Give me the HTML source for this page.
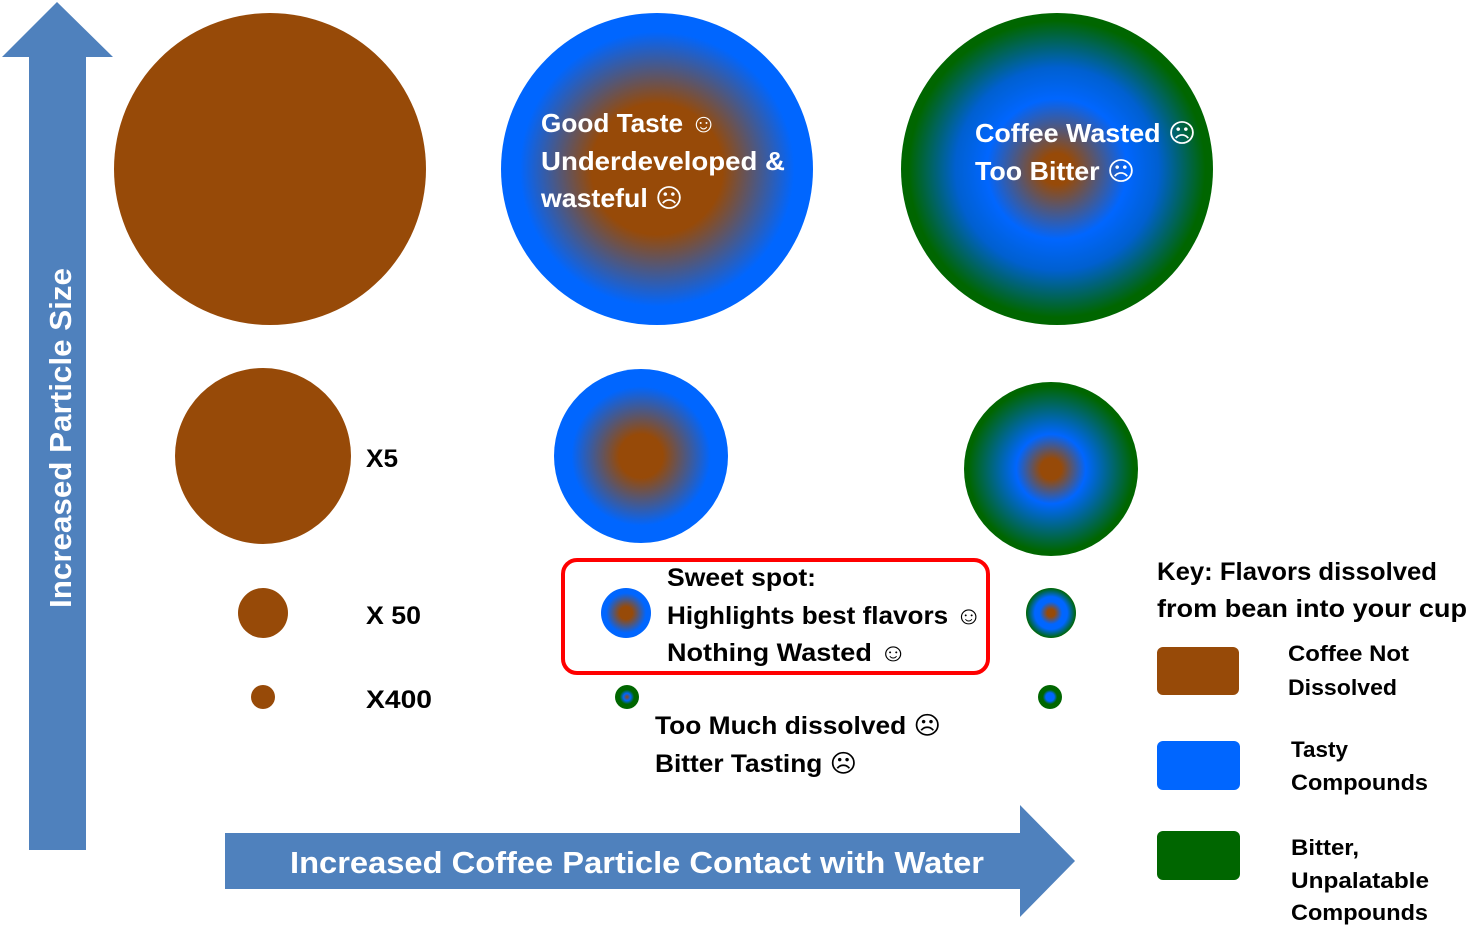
<!DOCTYPE html>
<html><head><meta charset="utf-8"><style>
html,body{margin:0;padding:0;background:#fff;}
svg{display:block;}
text{font-family:"Liberation Sans","DejaVu Sans",sans-serif;font-weight:bold;}
</style></head><body>
<svg width="1467" height="925" viewBox="0 0 1467 925" xmlns="http://www.w3.org/2000/svg">
<defs>
<radialGradient id="gb"><stop offset="0" stop-color="#974A08"/><stop offset="0.42" stop-color="#974A08"/><stop offset="0.88" stop-color="#0066FF"/><stop offset="1" stop-color="#0066FF"/></radialGradient>
<radialGradient id="gg"><stop offset="0" stop-color="#974A08"/><stop offset="0.1" stop-color="#974A08"/><stop offset="0.45" stop-color="#0066FF"/><stop offset="0.65" stop-color="#0060D0"/><stop offset="0.95" stop-color="#006600"/><stop offset="1" stop-color="#006600"/></radialGradient>
<radialGradient id="gb2"><stop offset="0" stop-color="#974A08"/><stop offset="0.25" stop-color="#974A08"/><stop offset="0.8" stop-color="#0066FF"/><stop offset="1" stop-color="#0066FF"/></radialGradient>
<radialGradient id="gg2"><stop offset="0" stop-color="#974A08"/><stop offset="0.12" stop-color="#974A08"/><stop offset="0.4" stop-color="#0066FF"/><stop offset="0.95" stop-color="#006600"/><stop offset="1" stop-color="#006600"/></radialGradient>
<radialGradient id="gs1"><stop offset="0" stop-color="#974A08"/><stop offset="0.15" stop-color="#974A08"/><stop offset="0.45" stop-color="#0066FF"/><stop offset="0.65" stop-color="#0066FF"/><stop offset="1" stop-color="#006600"/></radialGradient>
<radialGradient id="gs2"><stop offset="0" stop-color="#974A08"/><stop offset="0.3" stop-color="#0066FF"/><stop offset="0.6" stop-color="#006600"/><stop offset="1" stop-color="#006600"/></radialGradient>
<radialGradient id="gs3"><stop offset="0" stop-color="#0066FF"/><stop offset="0.35" stop-color="#0066FF"/><stop offset="0.6" stop-color="#006600"/><stop offset="1" stop-color="#006600"/></radialGradient>
</defs>
<polygon points="57,2 113,57 86,57 86,850 29,850 29,57 2,57" fill="#4F81BD"/>
<text transform="translate(71,438) rotate(-90)" text-anchor="middle" font-size="31" fill="#fff" textLength="340" lengthAdjust="spacingAndGlyphs">Increased Particle Size</text>
<polygon points="225,833 1020,833 1020,805 1075,861 1020,917 1020,889 225,889" fill="#4F81BD"/>
<text x="290" y="873" font-size="31" fill="#fff" textLength="694" lengthAdjust="spacingAndGlyphs">Increased Coffee Particle Contact with Water</text>
<circle cx="270" cy="169" r="156" fill="#974A08"/>
<circle cx="657" cy="169" r="156" fill="url(#gb)"/>
<circle cx="1057" cy="169" r="156" fill="url(#gg)"/>
<text font-size="26" fill="#fff"><tspan x="541" y="132" textLength="176" lengthAdjust="spacingAndGlyphs">Good Taste ☺</tspan><tspan x="541" y="170" textLength="244" lengthAdjust="spacingAndGlyphs">Underdeveloped &amp;</tspan><tspan x="541" y="207" textLength="142" lengthAdjust="spacingAndGlyphs">wasteful ☹</tspan></text>
<text font-size="26" fill="#fff"><tspan x="975" y="142" textLength="221" lengthAdjust="spacingAndGlyphs">Coffee Wasted ☹</tspan><tspan x="975" y="180" textLength="160" lengthAdjust="spacingAndGlyphs">Too Bitter ☹</tspan></text>
<circle cx="263" cy="456" r="88" fill="#974A08"/>
<circle cx="641" cy="456" r="87" fill="url(#gb2)"/>
<circle cx="1051" cy="469" r="87" fill="url(#gg2)"/>
<text x="366" y="467" font-size="25" fill="#000" textLength="32" lengthAdjust="spacingAndGlyphs">X5</text>
<circle cx="263" cy="613" r="25" fill="#974A08"/>
<circle cx="626" cy="613" r="25" fill="url(#gb2)"/>
<circle cx="1051" cy="613" r="25" fill="url(#gs1)"/>
<text x="366" y="624" font-size="25" fill="#000" textLength="55" lengthAdjust="spacingAndGlyphs">X 50</text>
<circle cx="263" cy="697" r="12" fill="#974A08"/>
<circle cx="627" cy="697" r="12" fill="url(#gs2)"/>
<circle cx="1050" cy="697" r="12" fill="url(#gs3)"/>
<text x="366" y="708" font-size="25" fill="#000" textLength="66" lengthAdjust="spacingAndGlyphs">X400</text>
<rect x="563" y="560" width="425" height="113" rx="14" fill="none" stroke="#FF0000" stroke-width="4"/>
<text font-size="25" fill="#000"><tspan x="667" y="586" textLength="149" lengthAdjust="spacingAndGlyphs">Sweet spot:</tspan><tspan x="667" y="624" textLength="315" lengthAdjust="spacingAndGlyphs">Highlights best flavors ☺</tspan><tspan x="667" y="661" textLength="240" lengthAdjust="spacingAndGlyphs">Nothing Wasted ☺</tspan></text>
<text font-size="25" fill="#000"><tspan x="655" y="734" textLength="286" lengthAdjust="spacingAndGlyphs">Too Much dissolved ☹</tspan><tspan x="655" y="772" textLength="202" lengthAdjust="spacingAndGlyphs">Bitter Tasting ☹</tspan></text>
<text font-size="25" fill="#000"><tspan x="1157" y="580" textLength="280" lengthAdjust="spacingAndGlyphs">Key: Flavors dissolved</tspan><tspan x="1157" y="617" textLength="310" lengthAdjust="spacingAndGlyphs">from bean into your cup</tspan></text>
<rect x="1157" y="647" width="82" height="48" rx="6" fill="#974A08"/>
<rect x="1157" y="741" width="83" height="49" rx="6" fill="#0066FF"/>
<rect x="1157" y="831" width="83" height="49" rx="6" fill="#006600"/>
<text font-size="22" fill="#000"><tspan x="1288" y="661" textLength="121" lengthAdjust="spacingAndGlyphs">Coffee Not</tspan><tspan x="1288" y="695" textLength="109" lengthAdjust="spacingAndGlyphs">Dissolved</tspan></text>
<text font-size="22" fill="#000"><tspan x="1291" y="757" textLength="57" lengthAdjust="spacingAndGlyphs">Tasty</tspan><tspan x="1291" y="790" textLength="137" lengthAdjust="spacingAndGlyphs">Compounds</tspan></text>
<text font-size="22" fill="#000"><tspan x="1291" y="855" textLength="68" lengthAdjust="spacingAndGlyphs">Bitter,</tspan><tspan x="1291" y="888" textLength="138" lengthAdjust="spacingAndGlyphs">Unpalatable</tspan><tspan x="1291" y="920" textLength="137" lengthAdjust="spacingAndGlyphs">Compounds</tspan></text>
</svg>
</body></html>
